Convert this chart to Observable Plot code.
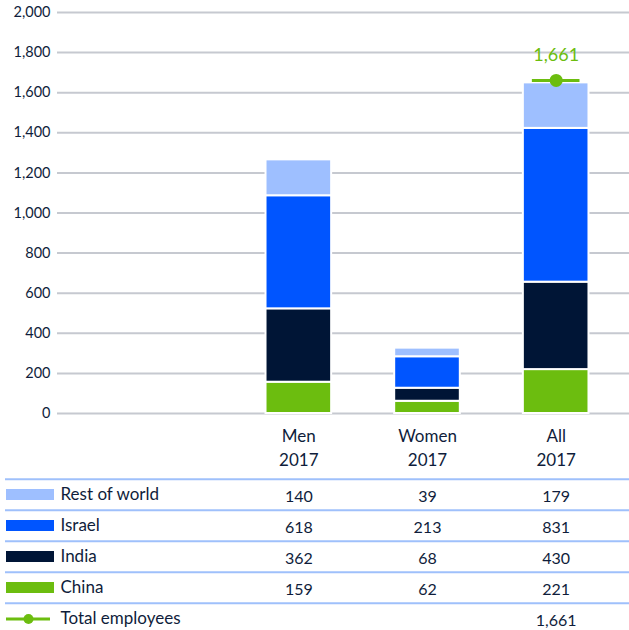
<!DOCTYPE html>
<html>
<head>
<meta charset="utf-8">
<script src="https://cdn.jsdelivr.net/npm/d3@7"></script>
<script src="https://cdn.jsdelivr.net/npm/@observablehq/plot@0.6"></script>
<style>
  html, body { margin: 0; padding: 0; background: white; }
  svg { display: block; }
  #chart { width: 629px; }
</style>
</head>
<body>
<div id="chart"></div>
<script>
const groups = ["Men 2017", "Women 2017", "All 2017"];
const regions = ["China", "India", "Israel", "Rest of world"];
const regionColors = ["#6cbd0f", "#001536", "#0055ff", "#9ebfff"];

// Bar segment heights as drawn in the picture
const barChina = [156, 61, 219];
const barIndia = [366, 65, 436];
const barIsrael = [564, 157, 767];
const barRestOfWorld = [179, 43, 227];

// Values printed in the table
const tableChina = [159, 62, 221];
const tableIndia = [362, 68, 430];
const tableIsrael = [618, 213, 831];
const tableRestOfWorld = [140, 39, 179];
const totalEmployees = [null, null, 1661];

const yTicks = [0, 200, 400, 600, 800, 1000, 1200, 1400, 1600, 1800, 2000];
const tableRows = ["Rest of world", "Israel", "India", "China", "Total employees"];

const barsByRegion = {"China": barChina, "India": barIndia, "Israel": barIsrael, "Rest of world": barRestOfWorld};
const tableByRegion = {"China": tableChina, "India": tableIndia, "Israel": tableIsrael, "Rest of world": tableRestOfWorld};

const stacked = [];
for (const r of regions) groups.forEach((g, i) => stacked.push({group: g, region: r, value: barsByRegion[r][i]}));
const totals = groups.map((g, i) => ({group: g, value: totalEmployees[i]})).filter(d => d.value != null);

const tableCells = [];
for (const r of ["Rest of world", "Israel", "India", "China"]) groups.forEach((g, i) => tableCells.push({group: g, row: r, value: tableByRegion[r][i]}));
totals.forEach(d => tableCells.push({group: d.group, row: "Total employees", value: d.value}));

const ink = "#0f1d3b";
const green = "#6cbd0f";
const fmt = d3.format(",");
const xScale = {domain: groups, range: [234, 620], paddingInner: 0.49, paddingOuter: 0.245, round: false};

const chart = Plot.plot({
  width: 629, height: 476,
  marginLeft: 57, marginRight: 0, marginTop: 12, marginBottom: 63,
  style: {fontFamily: "Lato, 'Open Sans', sans-serif", color: ink, background: "white"},
  x: {...xScale, label: null},
  y: {domain: [0, 2000], label: null},
  color: {domain: regions, range: regionColors},
  marks: [
    Plot.ruleY(yTicks, {stroke: "#c6c9d0", strokeWidth: 2}),
    Plot.axisY({ticks: yTicks, tickSize: 0, tickPadding: 7, fontSize: 14.5, tickFormat: fmt, label: null}),
    Plot.barY(stacked, {x: "group", y: "value", fill: "region", order: regions, stroke: "white", strokeWidth: 2}),
    Plot.axisX({tickSize: 0, tickPadding: 12, fontSize: 17, lineHeight: 1.4, tickFormat: d => d.replace(" ", "\n"), label: null}),
    Plot.tickY(totals, {x: "group", y: "value", stroke: green, strokeWidth: 3, insetLeft: 9, insetRight: 9}),
    Plot.dot(totals, {x: "group", y: "value", r: 6.5, fill: green}),
    Plot.text(totals, {x: "group", y: "value", text: d => fmt(d.value), dy: -25, fill: green, fontSize: 18})
  ]
});

const legendRows = ["Rest of world", "Israel", "India", "China"];
const table = Plot.plot({
  width: 629, height: 154,
  marginLeft: 5, marginRight: 0, marginTop: 0, marginBottom: 0,
  style: {fontFamily: "Lato, 'Open Sans', sans-serif", color: ink, background: "white", overflow: "visible"},
  x: {...xScale, axis: null},
  y: {domain: tableRows, range: [1, 159], padding: 0, axis: null},
  color: {domain: regions, range: regionColors},
  marks: [
    Plot.ruleY(tableRows, {y: d => d, dy: -15.8, stroke: "#9fc0fb", strokeWidth: 2}),
    Plot.cell(legendRows, {y: d => d, fill: d => d, insetTop: 10, insetBottom: 10, insetLeft: 1, insetRight: 575}),
    Plot.ruleY(["Total employees"], {y: d => d, stroke: green, strokeWidth: 3, insetLeft: 1, insetRight: 579}),
    Plot.dot(["Total employees"], {y: d => d, frameAnchor: "left", dx: 23, r: 5, fill: green}),
    Plot.text(tableRows, {y: d => d, text: d => d, frameAnchor: "left", dx: 55, textAnchor: "start", fontSize: 17, fill: ink}),
    Plot.text(tableCells, {x: "group", y: "row", text: d => fmt(d.value), fontSize: 16, dy: 2, fill: ink})
  ]
});

document.getElementById("chart").append(chart, table);
</script>
</body>
</html>
